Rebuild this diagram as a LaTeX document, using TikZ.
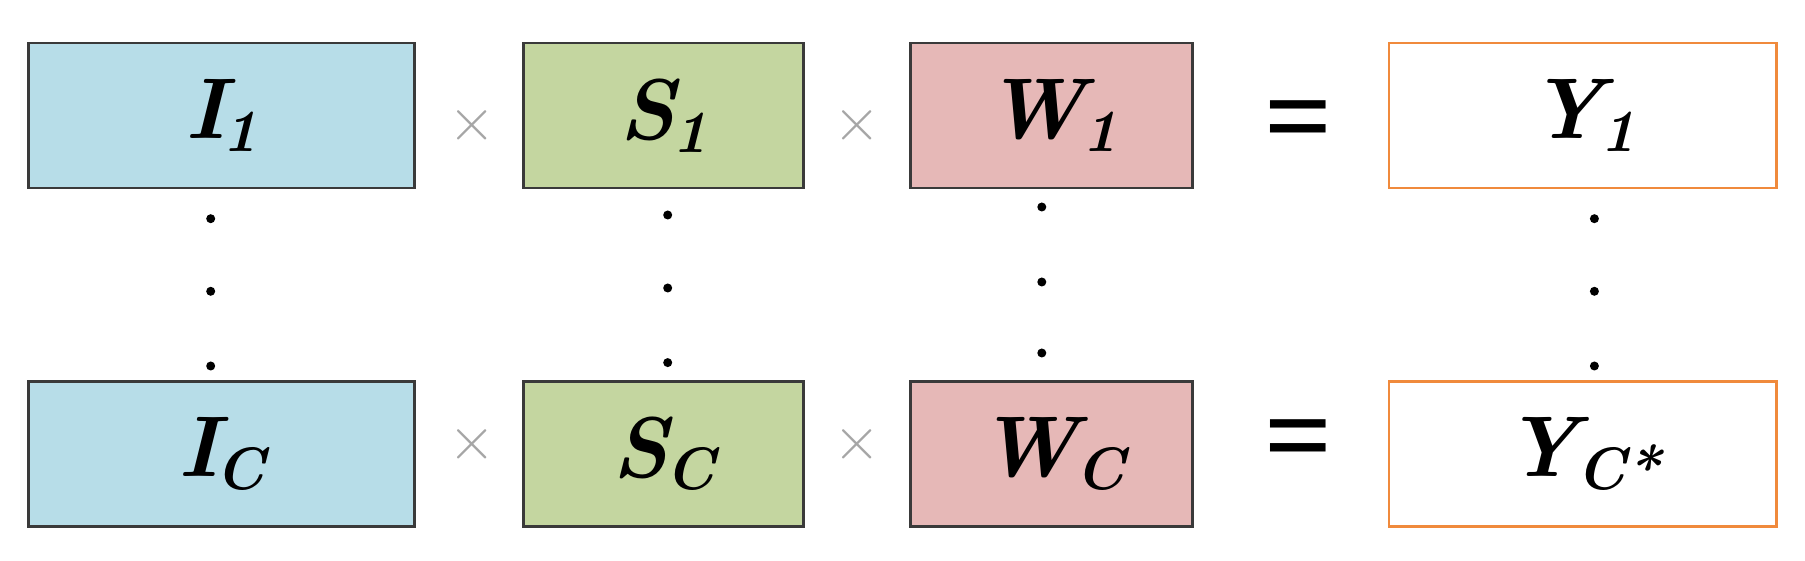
\documentclass[tikz,border=0pt]{standalone}
\usepackage{fontspec}
\newfontfamily\eqfont{Liberation Serif}
\definecolor{iblue}{HTML}{B7DDE8}
\definecolor{sgreen}{HTML}{C4D6A0}
\definecolor{wpink}{HTML}{E6B8B7}
\definecolor{yorange}{HTML}{F08A3C}
\definecolor{boxline}{HTML}{3A3A3A}
\newcommand\boxlab[2]{#1\kern-1pt\raisebox{-3.5pt}{\fontsize{17}{20}\selectfont #2}}
\begin{document}
\begin{tikzpicture}[x=0.01cm,y=-0.01cm,
  box/.style={draw=boxline,line width=0.75pt,minimum height=1.45cm,inner sep=0pt,
    font=\fontsize{24.5}{29}\selectfont\bfseries\itshape},
  ibox/.style={box,fill=iblue,minimum width=3.86cm},
  sbox/.style={box,fill=sgreen,minimum width=2.80cm},
  wbox/.style={box,fill=wpink,minimum width=2.82cm},
  ybox/.style={box,draw=yorange,line width=0.6pt,fill=white,minimum width=3.87cm},
  timesop/.style={inner sep=0pt,text=gray!70,font=\fontsize{17}{20}\selectfont},
  eqop/.style={inner sep=0pt,font=\fontsize{34}{40}\selectfont\eqfont\bfseries},
  vdot/.style={fill=black}]
\useasboundingbox (0,0) rectangle (1805,561);
% top row
\node[ibox] (I1) at (221.6,115.6) {\boxlab{I}{1}};
\node[sbox] (S1) at (663.6,115.6) {\boxlab{S}{1}};
\node[wbox] (W1) at (1051.6,115.6) {\boxlab{W}{1}};
\node[ybox] (Y1) at (1582.9,115.6) {\boxlab{Y}{1}};
% bottom row
\node[ibox] (IC) at (221.6,454) {\boxlab{I}{C}};
\node[sbox] (SC) at (663.6,454) {\boxlab{S}{C}};
\node[wbox] (WC) at (1051.6,454) {\boxlab{W}{C}};
\node[ybox] (YC) at (1582.9,454) {\boxlab{Y}{C*}};
% operators
\node[timesop] (t1) at (472.5,125) {$\times$};
\node[timesop] (t2) at (857.6,125) {$\times$};
\node[timesop] (t3) at (472.5,444) {$\times$};
\node[timesop] (t4) at (857.6,444) {$\times$};
\node[eqop] (e1) at (1299,129) {=};
\node[eqop] (e2) at (1299,448) {=};
% vertical dots
\foreach \yy in {218.7,291.3,366} {\fill[vdot] (210.7,\yy) circle[radius=0.045cm];}
\foreach \yy in {215,288,362.6} {\fill[vdot] (667.7,\yy) circle[radius=0.045cm];}
\foreach \yy in {207,282,353} {\fill[vdot] (1041.8,\yy) circle[radius=0.045cm];}
\foreach \yy in {218.7,291.3,366} {\fill[vdot] (1594.4,\yy) circle[radius=0.045cm];}
\end{tikzpicture}
\end{document}
